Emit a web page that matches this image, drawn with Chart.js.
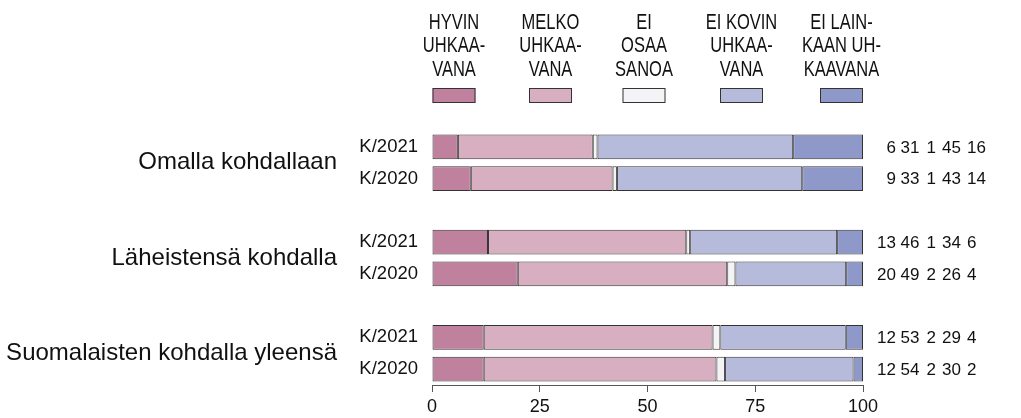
<!DOCTYPE html>
<html>
<head>
<meta charset="utf-8">
<script src="https://cdn.jsdelivr.net/npm/chart.js@4"></script>
<style>
  body { margin: 0; background: #fff; }
  #wrap { width: 1021px; height: 418px; position: relative; }
</style>
</head>
<body>
<div id="wrap"><canvas id="chart"></canvas></div>
<script>
"use strict";

// rivit (tyhjät välit ryhmien välissä)
const categories = ['K/2021', 'K/2020', '', 'K/2021', 'K/2020', '', 'K/2021', 'K/2020'];
const groups = ['Omalla kohdallaan', 'Läheistensä kohdalla', 'Suomalaisten kohdalla yleensä'];

// selitteen tekstit rivitettynä
const seriesNames = [
    ['HYVIN', 'UHKAA-', 'VANA'],
    ['MELKO', 'UHKAA-', 'VANA'],
    ['EI', 'OSAA', 'SANOA'],
    ['EI KOVIN', 'UHKAA-', 'VANA'],
    ['EI LAIN-', 'KAAN UH-', 'KAAVANA']
];

// prosentit
const hyvin      = [6,    9,    null, 13,   19.9, null, 12,   12];
const melko      = [31.3, 32.9, null, 46,   48.6, null, 53.1, 54];
const eiOsaa     = [1.1,  1,    null, 0.9,  1.9,  null, 1.8,  2];
const eiKovin    = [45.4, 43,   null, 34.1, 25.7, null, 29.1, 29.8];
const eiLainkaan = [16.2, 14.1, null, 6,    3.9,  null, 4,    2.2];

const xTicks = [0, 25, 50, 75, 100];

const colors = ['#c0819f', '#d8afc1', '#f4f4f6', '#b7bbdb', '#8f99c9'];
const seriesData = [hyvin, melko, eiOsaa, eiKovin, eiLainkaan];

// Tekstit ja selite piirretään itse
const extras = {
    id: 'extras',
    afterDraw(chart) {
        const ctx = chart.ctx;
        const y = chart.scales.y;
        const area = chart.chartArea;
        ctx.save();
        ctx.fillStyle = '#111';

        // ryhmien nimet
        ctx.font = '24px "Liberation Sans", Arial, sans-serif';
        ctx.textAlign = 'right';
        ctx.textBaseline = 'middle';
        groups.forEach((g, i) => {
            const yy = (y.getPixelForValue(i * 3) + y.getPixelForValue(i * 3 + 1)) / 2;
            ctx.fillText(g, 337, yy);
        });

        // luvut oikealla
        ctx.font = '17px "Liberation Sans", Arial, sans-serif';
        const colX = [896, 919.5, 936, 961, 967];
        categories.forEach((c, row) => {
            if (!c) return;
            const yy = y.getPixelForValue(row) + 1;
            seriesData.forEach((s, k) => {
                ctx.textAlign = k === 4 ? 'left' : 'right';
                ctx.fillText(String(Math.round(s[row])), colX[k], yy);
            });
        });

        // selite
        const legendX = [22, 118.5, 212, 309.5, 409.5];
        ctx.textBaseline = 'alphabetic';
        ctx.textAlign = 'center';
        seriesNames.forEach((lines, k) => {
            const cx = area.left + legendX[k];
            lines.forEach((t, j) => {
                ctx.save();
                ctx.translate(cx, 28.5 + j * 23.5);
                ctx.scale(0.75, 1);
                ctx.font = '22px "Liberation Sans", Arial, sans-serif';
                ctx.fillText(t, 0, 0);
                ctx.restore();
            });
            ctx.fillStyle = colors[k];
            ctx.fillRect(cx - 21.5, 88, 43, 15);
            ctx.strokeStyle = '#333';
            ctx.lineWidth = 1;
            ctx.strokeRect(cx - 21.5 + 0.5, 88.5, 42, 14);
            ctx.fillStyle = '#111';
        });
        ctx.restore();
    }
};

new Chart('chart', {
    type: 'bar',
    data: {
        labels: categories,
        datasets: seriesData.map((d, k) => ({
            label: seriesNames[k].join(' '),
            data: d,
            backgroundColor: colors[k],
            borderColor: '#333',
            borderWidth: 1,
            borderSkipped: false,
            barPercentage: 1,
            categoryPercentage: 0.775
        }))
    },
    options: {
        indexAxis: 'y',
        responsive: true,
        maintainAspectRatio: false,
        animation: false,
        layout: { padding: { top: 131, right: 158, left: 0, bottom: 0 } },
        plugins: {
            legend: { display: false },
            tooltip: { enabled: false }
        },
        scales: {
            x: {
                stacked: true,
                min: 0,
                max: 100,
                afterBuildTicks: s => { s.ticks = xTicks.map(v => ({ value: v })); },
                afterFit: s => { s.height = 33; },
                ticks: {
                    color: '#111',
                    padding: 4,
                    font: { family: '"Liberation Sans", Arial, sans-serif', size: 18 }
                },
                grid: { drawOnChartArea: false, tickLength: 7, color: '#555' },
                border: { display: true, color: '#555', width: 1 }
            },
            y: {
                stacked: true,
                afterFit: s => { s.width = 432; },
                ticks: {
                    color: '#111',
                    padding: 14,
                    font: { family: '"Liberation Sans", Arial, sans-serif', size: 18.5 }
                },
                grid: { display: false, tickLength: 0 },
                border: { display: false }
            }
        }
    },
    plugins: [extras]
});
</script>
</body>
</html>
